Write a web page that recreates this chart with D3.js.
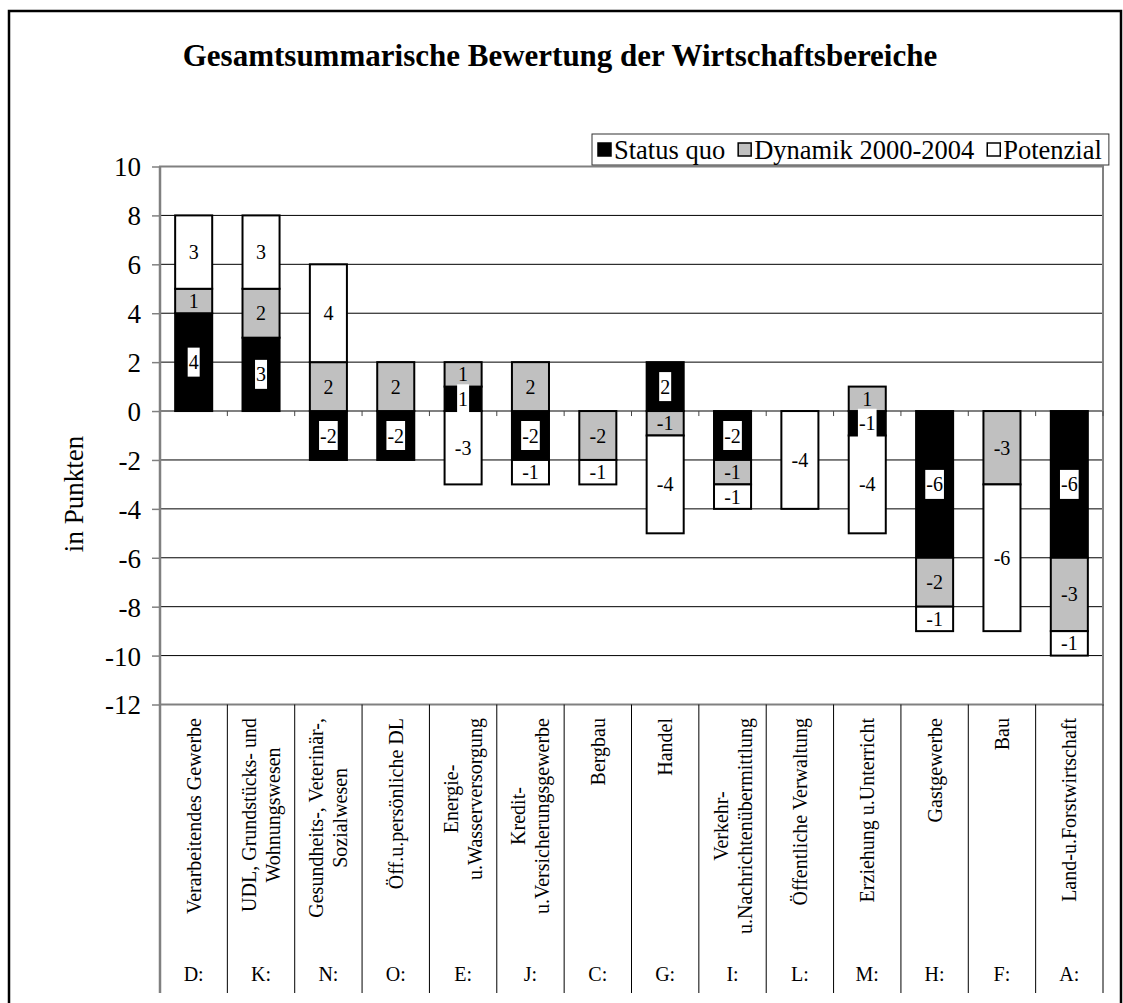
<!DOCTYPE html>
<meta charset="utf-8">
<style>
  body { margin: 0; background: #fff; }
  text { font-family: "Liberation Serif", "Times New Roman", serif; fill: #000; }
</style>
<svg width="1123" height="1003"></svg>
<script src="https://d3js.org/d3.v7.min.js"></script>
<script>

// data
var codes = ["D:", "K:", "N:", "O:", "E:", "J:", "C:", "G:", "I:", "L:", "M:", "H:", "F:", "A:"];
var sectors = [
  ["Verarbeitendes Gewerbe"],
  ["UDL, Grundstücks- und", "Wohnungswesen"],
  ["Gesundheits-, Veterinär-,", "Sozialwesen"],
  ["Öff.u.persönliche DL"],
  ["Energie-", "u.Wasserversorgung"],
  ["Kredit-", "u.Versicherungsgewerbe"],
  ["Bergbau"],
  ["Handel"],
  ["Verkehr-", "u.Nachrichtenübermittlung"],
  ["Öffentliche Verwaltung"],
  ["Erziehung u.Unterricht"],
  ["Gastgewerbe"],
  ["Bau"],
  ["Land-u.Forstwirtschaft"]
];
var statusQuo = [4, 3, -2, -2, 1, -2, 0, 2, -2, 0, -1, -6, 0, -6];
var dynamik   = [1, 2, 2, 2, 1, 2, -2, -1, -1, 0, 1, -2, -3, -3];
var potenzial = [3, 3, 4, 0, -3, -1, -1, -4, -1, -4, -4, -1, -6, -1];
var seriesNames = ["Status quo", "Dynamik 2000-2004", "Potenzial"];
var yTicks = [-12, -10, -8, -6, -4, -2, 0, 2, 4, 6, 8, 10];

var fills = ["#000000", "#c0c0c0", "#ffffff"];
var keys = ["s", "d", "p"];

var svg = d3.select("svg");

var plotLeft = 160, plotRight = 1103, plotTop = 166.5, plotBottom = 704.5, catBottom = 993;

var y = d3.scaleLinear().domain([-12, 10]).range([plotBottom, plotTop]);
var x = d3.scaleBand().domain(codes).range([plotLeft, plotRight])
  .paddingInner(0.45).paddingOuter(0.225);
var step = x.step();

// outer frame
svg.append("rect")
  .attr("x", 9).attr("y", 11).attr("width", 1112).attr("height", 1010)
  .attr("fill", "none").attr("stroke", "#000").attr("stroke-width", 2.5);

// title
svg.append("text")
  .attr("x", 560).attr("y", 66)
  .attr("text-anchor", "middle")
  .attr("font-size", 31).attr("font-weight", "bold")
  .text("Gesamtsummarische Bewertung der Wirtschaftsbereiche");

// gridlines
svg.append("g").selectAll("line")
  .data(yTicks.filter(function(t) { return t > -12 && t < 10 && t != 0; }))
  .enter().append("line")
  .attr("x1", plotLeft).attr("x2", plotRight)
  .attr("y1", function(d) { return y(d); })
  .attr("y2", function(d) { return y(d); })
  .attr("stroke", "#000").attr("stroke-width", 1);

// plot border
svg.append("rect")
  .attr("x", plotLeft).attr("y", plotTop)
  .attr("width", plotRight - plotLeft).attr("height", plotBottom - plotTop)
  .attr("fill", "none").attr("stroke", "#808080").attr("stroke-width", 2);

// zero line + ticks
svg.append("line")
  .attr("x1", plotLeft).attr("x2", plotRight)
  .attr("y1", y(0)).attr("y2", y(0))
  .attr("stroke", "#808080").attr("stroke-width", 2);
svg.append("g").selectAll("line")
  .data(d3.range(codes.length + 1))
  .enter().append("line")
  .attr("x1", function(i) { return plotLeft + i * step; })
  .attr("x2", function(i) { return plotLeft + i * step; })
  .attr("y1", y(0)).attr("y2", y(0) + 5)
  .attr("stroke", "#444").attr("stroke-width", 1);

// y axis
var yAxis = svg.append("g")
  .attr("transform", "translate(" + plotLeft + ",0)")
  .call(d3.axisLeft(y).tickValues(yTicks).tickSize(8).tickSizeOuter(0).tickPadding(11));
yAxis.select(".domain").remove();
yAxis.selectAll(".tick line").attr("stroke", "#808080").attr("stroke-width", 1.5);
yAxis.selectAll(".tick text")
  .style("font-family", "'Liberation Serif', serif")
  .attr("font-size", 27).attr("dy", "0.35em")
  .attr("fill", "#000")
  .text(function(d) { return d; });

svg.append("text")
  .attr("transform", "translate(83,494) rotate(-90)")
  .attr("text-anchor", "middle")
  .attr("font-size", 27)
  .text("in Punkten");

// stacked bars
var rows = codes.map(function(c, i) {
  return { code: c, s: statusQuo[i], d: dynamik[i], p: potenzial[i] };
});
var stacked = d3.stack().keys(keys).offset(d3.stackOffsetDiverging)(rows);

var layers = svg.append("g").selectAll("g")
  .data(stacked)
  .enter().append("g")
  .attr("fill", function(d, i) { return fills[i]; });

layers.selectAll("rect")
  .data(function(d) { return d.filter(function(e) { return e[1] - e[0] != 0; }); })
  .enter().append("rect")
  .attr("x", function(d) { return x(d.data.code); })
  .attr("width", x.bandwidth())
  .attr("y", function(d) { return y(Math.max(d[0], d[1])); })
  .attr("height", function(d) { return Math.abs(y(d[0]) - y(d[1])); })
  .attr("stroke", "#000").attr("stroke-width", 2);

// value labels
var labelG = svg.append("g");
stacked.forEach(function(layer, li) {
  layer.forEach(function(d) {
    var v = d[1] - d[0];
    if (v == 0) return;
    var val = d.data[keys[li]];
    var cx = x(d.data.code) + x.bandwidth() / 2;
    var cy = y((d[0] + d[1]) / 2);
    var bg = labelG.append("rect");
    var t = labelG.append("text")
      .attr("x", cx).attr("y", cy).attr("dy", "0.35em")
      .attr("text-anchor", "middle").attr("font-size", 20)
      .text(val);
    if (li == 0) {
      var w = t.node().getComputedTextLength();
      bg.attr("x", cx - w / 2 - 1).attr("y", cy - 14.5)
        .attr("width", w + 2).attr("height", 29).attr("fill", "#fff");
    } else {
      bg.remove();
    }
  });
});

// category area
svg.append("g").selectAll("line")
  .data(d3.range(1, codes.length + 1))
  .enter().append("line")
  .attr("x1", function(i) { return plotLeft + i * step; })
  .attr("x2", function(i) { return plotLeft + i * step; })
  .attr("y1", plotBottom).attr("y2", catBottom)
  .attr("stroke", "#000").attr("stroke-width", 1);
svg.append("line")
  .attr("x1", plotLeft).attr("x2", plotLeft)
  .attr("y1", plotTop).attr("y2", catBottom)
  .attr("stroke", "#808080").attr("stroke-width", 2.5);

var catG = svg.append("g");
sectors.forEach(function(lines, i) {
  var cx = plotLeft + (i + 0.5) * step;
  var n = lines.length;
  var texts = lines.map(function(l) {
    return catG.append("text")
      .attr("text-anchor", "middle")
      .attr("font-size", 20)
      .text(l);
  });
  var maxLen = d3.max(texts, function(t) { return t.node().getComputedTextLength(); });
  var yc = 718 + maxLen / 2;
  texts.forEach(function(t, j) {
    var lx = cx + (j - (n - 1) / 2) * 24 + 7;
    t.attr("transform", "translate(" + lx + "," + yc + ") rotate(-90)");
  });
  catG.append("text")
    .attr("x", cx).attr("y", 981)
    .attr("text-anchor", "middle").attr("font-size", 20)
    .text(codes[i]);
});

// legend
var legend = svg.append("g");
var legTop = 134, legLeft = 592;
var box = legend.append("rect")
  .attr("x", legLeft).attr("y", legTop).attr("height", 31)
  .attr("fill", "#fff").attr("stroke", "#333").attr("stroke-width", 1);
var cursor = legLeft + 6;
seriesNames.forEach(function(name, i) {
  legend.append("rect")
    .attr("x", cursor).attr("y", legTop + 9)
    .attr("width", 13).attr("height", 13)
    .attr("fill", fills[i]).attr("stroke", "#000").attr("stroke-width", 1.5);
  var t = legend.append("text")
    .attr("x", cursor + 16).attr("y", legTop + 25)
    .attr("font-size", 26.5)
    .text(name);
  cursor += 16 + t.node().getComputedTextLength() + 13;
});
box.attr("width", cursor - legLeft - 6);

</script>
